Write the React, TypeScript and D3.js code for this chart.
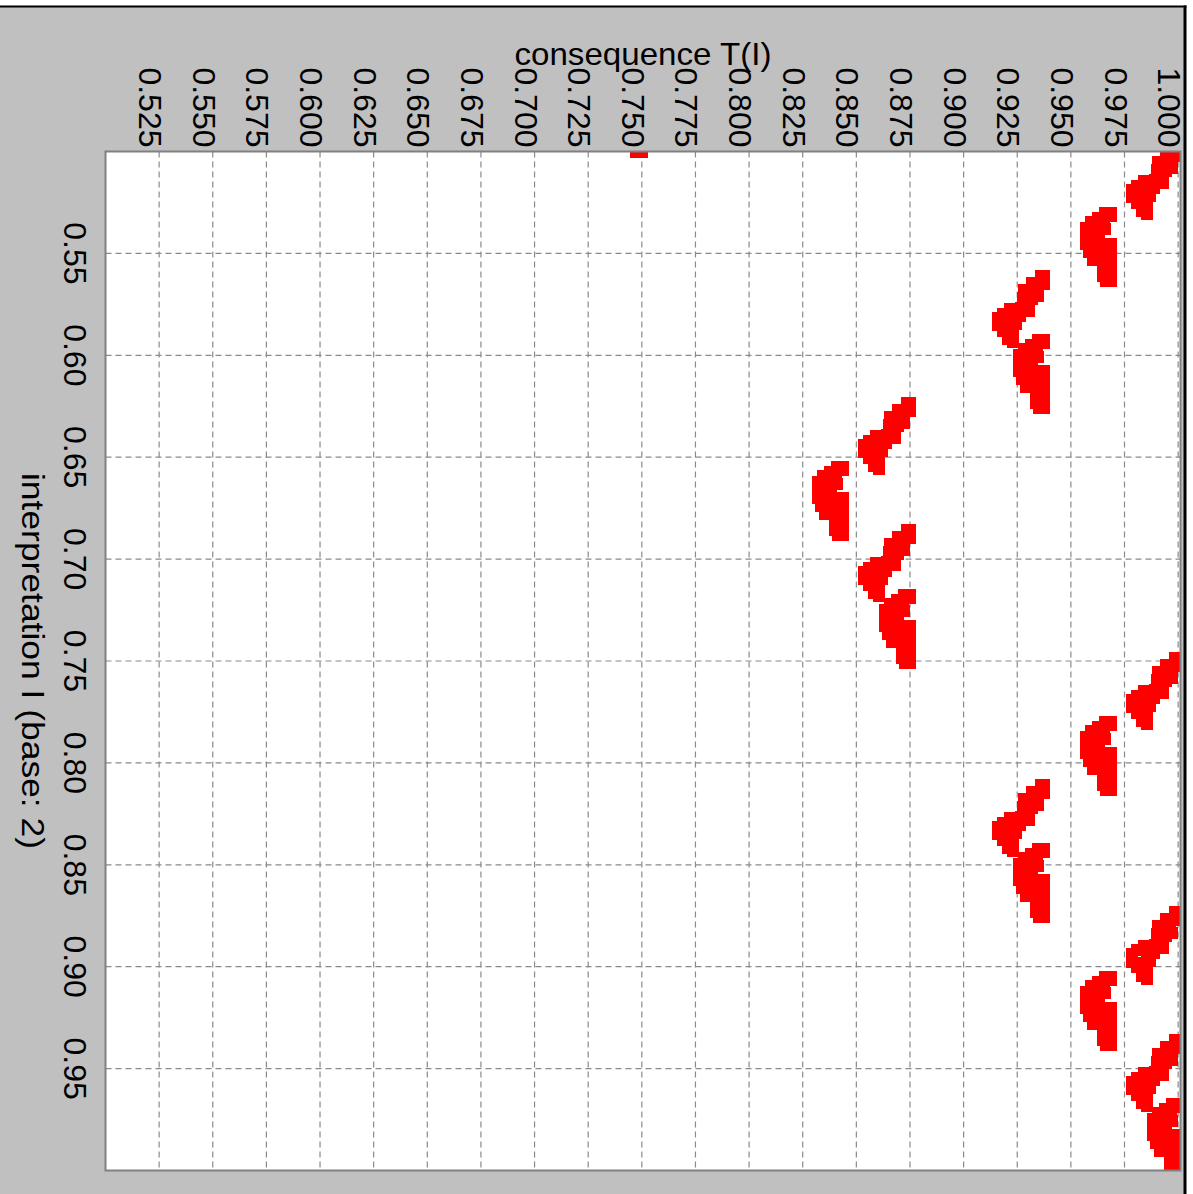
import React from 'react';
import * as d3 from 'd3';

const W = 1193;
const H = 1194;

// axis ticks
const xTicks = [0.525, 0.55, 0.575, 0.6, 0.625, 0.65, 0.675, 0.7, 0.725, 0.75, 0.775, 0.8, 0.825, 0.85, 0.875, 0.9, 0.925, 0.95, 0.975, 1.0];
const yTicks = [0.55, 0.6, 0.65, 0.7, 0.75, 0.8, 0.85, 0.9, 0.95];

// each cluster of points: start of its interpretation interval, top consequence value, and cluster form
const blobStartI = [0.5, 0.53125, 0.5625, 0.59375, 0.625, 0.65625, 0.6875, 0.71875, 0.75, 0.78125, 0.8125, 0.84375, 0.875, 0.90625, 0.9375, 0.96875];
const blobTopT = [1.0, 0.96875, 0.9375, 0.9375, 0.875, 0.84375, 0.875, 0.875, 1.0, 0.96875, 0.9375, 0.9375, 1.0, 0.96875, 1.0, 1.0];
const blobForm = ['B', 'A', 'B', 'A', 'B', 'A', 'B', 'A', 'B', 'A', 'B', 'A', 'B', 'A', 'B', 'A'];

// point offsets inside a cluster (consequence offset, interpretation offset)
const formA_dT = [0, -0.0028, -0.00606, 0, -0.00326, -0.00932, -0.01165, -0.00699, -0.01165, -0.01165, -0.00792, 0, -0.00373, -0.00746, -0.01026, 0, -0.00466, -0.00839, 0, -0.00373, 0, -0.00373, 0, -0.00233, -0.0028, -0.00559];
const formA_dI = [-0.00128, -0.00128, 0.00118, 0.0002, 0.00314, 0.00314, 0.00608, 0.00608, 0.01001, 0.01394, 0.01099, 0.01394, 0.01394, 0.01492, 0.01786, 0.01884, 0.01884, 0.02179, 0.02375, 0.02473, 0.02866, 0.02964, 0.03209, 0.03209, 0.00687, 0.00883];
const formB_dT = [0, -0.0014, -0.0056, 0, -0.00932, -0.00373, -0.0028, -0.00979, -0.00699, -0.01585, -0.01072, -0.01911, -0.02144, -0.00699, -0.01445, -0.02144, -0.01585, -0.01445, -0.01911, -0.01678, -0.01445, -0.00559, -0.01119, -0.01305];
const formB_dI = [-0.0016, -0.0016, 0.00184, 0.00233, 0.00527, 0.00527, 0.00822, 0.0092, 0.01263, 0.0146, 0.01411, 0.01705, 0.01901, 0.01558, 0.01901, 0.02245, 0.02294, 0.02637, 0.02539, 0.02932, 0.03079, 0.00981, 0.01815, 0.02208];

// isolated points
const extraT = [0.7473, 0.7501];
const extraI = [0.5, 0.5];

type Pt = { t: number; i: number };

const points: Pt[] = [];
blobStartI.forEach((i0, k) => {
  const dT = blobForm[k] === 'A' ? formA_dT : formB_dT;
  const dI = blobForm[k] === 'A' ? formA_dI : formB_dI;
  dT.forEach((d, j) => points.push({ t: blobTopT[k] + d, i: i0 + dI[j] }));
});
extraT.forEach((t, j) => points.push({ t, i: extraI[j] }));

const PL = 105.5, PR = 1180.5, PT = 151.5, PB = 1170.5;
const x = d3.scaleLinear().domain([0.5, 1.0011]).range([PL, PR]);
const y = d3.scaleLinear().domain([0.5, 1.0]).range([PT, PB]);

const FONT = '"Liberation Sans", Arial, Helvetica, sans-serif';
const M = 12;

export default function App() {
  return (
    <svg width={W} height={H} style={{ position: 'absolute', left: 0, top: 0, display: 'block', background: '#ffffff' }}>
      <defs>
        <clipPath id="plotclip">
          <rect x={PL} y={PT} width={PR - PL} height={PB - PT} />
        </clipPath>
      </defs>
      <rect x={0} y={0} width={W} height={H} fill="#ffffff" />
      <rect x={0} y={6.5} width={1185} height={H} fill="#c0c0c0" />
      <line x1={0} x2={1186.5} y1={6.5} y2={6.5} stroke="#000" strokeWidth={2} />
      <line x1={1185} x2={1185} y1={5.5} y2={H} stroke="#000" strokeWidth={3} />

      <rect x={PL} y={PT} width={PR - PL} height={PB - PT} fill="#ffffff" />
      <g stroke="#8a8a8a" strokeWidth={1.2} strokeDasharray="6,4">
        {xTicks.map((t) => (
          <line key={'gx' + t} x1={x(t)} x2={x(t)} y1={PT} y2={PB} />
        ))}
        {yTicks.map((t) => (
          <line key={'gy' + t} x1={PL} x2={PR} y1={y(t)} y2={y(t)} />
        ))}
      </g>
      <g clipPath="url(#plotclip)" fill="#ff0000" shapeRendering="crispEdges">
        {points.map((p, k) => (
          <rect key={k} x={x(p.t) - M / 2} y={y(p.i) - M / 2} width={M} height={M} />
        ))}
      </g>
      <rect x={PL} y={PT} width={PR - PL} height={PB - PT} fill="none" stroke="#808080" strokeWidth={2} />

      <g fontFamily={FONT} fontSize={32} fill="#000">
        {xTicks.map((t) => (
          <text key={'tx' + t} transform={`translate(${x(t) - 20},147.5) rotate(90)`} textAnchor="end">
            {d3.format('.3f')(t)}
          </text>
        ))}
        {yTicks.map((t) => (
          <text key={'ty' + t} transform={`translate(63.5,${y(t)}) rotate(90)`} textAnchor="middle">
            {d3.format('.2f')(t)}
          </text>
        ))}
        <text x={(PL + PR) / 2} y={65} textAnchor="middle" textLength={257} lengthAdjust="spacingAndGlyphs">
          consequence T(I)
        </text>
        <text transform={`translate(21.7,${(PT + PB) / 2}) rotate(90)`} textAnchor="middle" textLength={376} lengthAdjust="spacingAndGlyphs">
          interpretation I (base: 2)
        </text>
      </g>
    </svg>
  );
}
